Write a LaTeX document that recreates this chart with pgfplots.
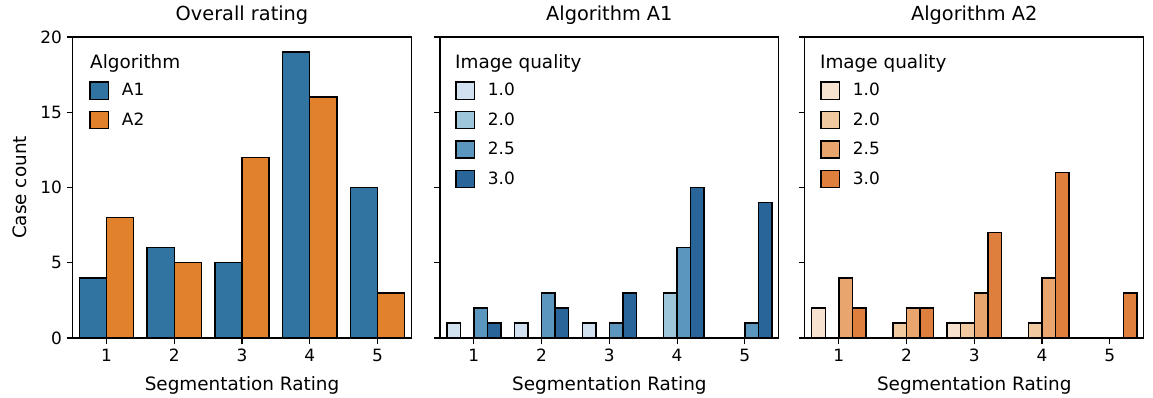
\documentclass[border=0pt]{standalone}
\usepackage{fontspec}
\setmainfont{DejaVu Sans}
\usepackage{pgfplots}
\pgfplotsset{compat=1.18}
\definecolor{cA1}{HTML}{3274A1}
\definecolor{cA2}{HTML}{E1812C}
\definecolor{b1}{RGB}{210,225,239}
\definecolor{b2}{RGB}{158,198,219}
\definecolor{b3}{RGB}{91,150,190}
\definecolor{b4}{RGB}{42,101,154}
\definecolor{o1}{RGB}{247,226,208}
\definecolor{o2}{RGB}{241,201,161}
\definecolor{o3}{RGB}{233,165,110}
\definecolor{o4}{RGB}{222,127,62}
\newcommand{\tickfont}{\fontsize{12.7}{14}\selectfont}
\newcommand{\labfont}{\fontsize{13.8}{16}\selectfont}
\pgfplotsset{
  myax/.style={
    width=254pt, height=225.75pt, scale only axis,
    xmin=0.5, xmax=5.5, ymin=0, ymax=20,
    xtick={1,2,3,4,5}, ytick={0,5,10,15,20},
    tick pos=left, tick align=outside, major tick length=4.5pt,
    every tick/.style={black, line width=0.8pt},
    axis line style={line width=0.8pt},
    ticklabel style={font=\tickfont},
    /pgf/number format/assume math mode=true,
    xlabel={Segmentation Rating},
    every axis x label/.style={at={(rel axis cs:0.5,0)}, anchor=base, yshift=-39pt, font=\labfont},
    title style={at={(rel axis cs:0.5,1)}, anchor=base, yshift=6.3pt, font=\fontsize{14.5}{17}\selectfont},
    legend style={draw=none, fill=none, inner sep=0pt, anchor=north west,
      row sep=8pt, nodes={inner sep=0pt, font=\tickfont},
      /tikz/every odd column/.append style={column sep=9.5pt}},
    legend cell align=left,
  },
  mybar/.style={ybar, bar shift=0pt, draw=black, line width=1.1pt,
    legend image code/.code={\draw[##1, line width=1.1pt] (0pt,-6.5pt) rectangle (14pt,6.5pt);}},
}
\begin{document}
\begin{tikzpicture}
\path[use as bounding box] (-54.5pt,-44.25pt) rectangle (810.25pt,253.5pt);
% Panel 1
\begin{axis}[myax, at={(0pt,0pt)}, anchor=south west,
  title={Overall rating},
  ylabel={Case count},
  every axis y label/.style={at={(rel axis cs:0,0.5)}, xshift=-39.5pt, rotate=90, anchor=center, font=\labfont},
  legend style={at={(rel axis cs:0.048,0.854)}}]
\addplot[mybar, bar width=0.4, bar shift=-0.2, fill=cA1] coordinates {(1,4) (2,6) (3,5) (4,19) (5,10)};
\addlegendentry{A1}
\addplot[mybar, bar width=0.4, bar shift=0.2, fill=cA2] coordinates {(1,8) (2,5) (3,12) (4,16) (5,3)};
\addlegendentry{A2}
\node[anchor=west, inner sep=0pt, font=\labfont] at (rel axis cs:0.051,0.9136) {Algorithm};
\end{axis}
% Panel 2
\begin{axis}[myax, at={(275.5pt,0pt)}, anchor=south west,
  title={Algorithm A1}, yticklabel=\empty,
  legend style={at={(rel axis cs:0.044,0.854)}}]
\addplot[mybar, bar width=0.2, bar shift=-0.3, fill=b1] coordinates {(1,1) (2,1) (3,1)};
\addlegendentry{1.0}
\addplot[mybar, bar width=0.2, bar shift=-0.1, fill=b2] coordinates {(4,3)};
\addlegendentry{2.0}
\addplot[mybar, bar width=0.2, bar shift=0.1, fill=b3] coordinates {(1,2) (2,3) (3,1) (4,6) (5,1)};
\addlegendentry{2.5}
\addplot[mybar, bar width=0.2, bar shift=0.3, fill=b4] coordinates {(1,1) (2,2) (3,3) (4,10) (5,9)};
\addlegendentry{3.0}
\node[anchor=west, inner sep=0pt, font=\labfont] at (rel axis cs:0.044,0.9136) {Image quality};
\end{axis}
% Panel 3
\begin{axis}[myax, at={(549.2pt,0pt)}, anchor=south west,
  title={Algorithm A2}, yticklabel=\empty,
  legend style={at={(rel axis cs:0.044,0.854)}}]
\addplot[mybar, bar width=0.2, bar shift=-0.3, fill=o1] coordinates {(1,2) (3,1)};
\addlegendentry{1.0}
\addplot[mybar, bar width=0.2, bar shift=-0.1, fill=o2] coordinates {(2,1) (3,1) (4,1)};
\addlegendentry{2.0}
\addplot[mybar, bar width=0.2, bar shift=0.1, fill=o3] coordinates {(1,4) (2,2) (3,3) (4,4)};
\addlegendentry{2.5}
\addplot[mybar, bar width=0.2, bar shift=0.3, fill=o4] coordinates {(1,2) (2,2) (3,7) (4,11) (5,3)};
\addlegendentry{3.0}
\node[anchor=west, inner sep=0pt, font=\labfont] at (rel axis cs:0.044,0.9136) {Image quality};
\end{axis}
\end{tikzpicture}
\end{document}
